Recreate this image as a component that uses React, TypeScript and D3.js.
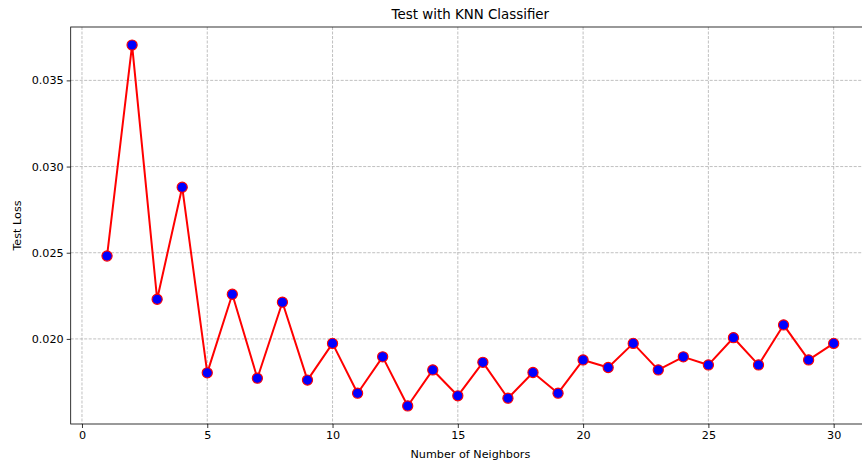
import React, { useEffect, useRef } from 'react';
import * as d3 from 'd3';

const neighbors = [1, 2, 3, 4, 5, 6, 7, 8, 9, 10, 11, 12, 13, 14, 15, 16, 17, 18, 19, 20, 21, 22, 23, 24, 25, 26, 27, 28, 29, 30];
const testLoss = [
  0.02481, 0.03705, 0.02230, 0.02880, 0.01803, 0.02259, 0.01772, 0.02213, 0.01761, 0.01974,
  0.01685, 0.01896, 0.01611, 0.01820, 0.01670, 0.01864, 0.01656, 0.01805, 0.01685, 0.01878,
  0.01834, 0.01974, 0.01820, 0.01896, 0.01849, 0.02007, 0.01849, 0.02081, 0.01878, 0.01974,
];
const xTicks = [0, 5, 10, 15, 20, 25, 30];
const yTicks = [0.020, 0.025, 0.030, 0.035];

const W = 862;
const H = 466;
const FONT = 'DejaVu Sans, sans-serif';

function Chart() {
  const node = useRef<SVGSVGElement | null>(null);

  useEffect(() => {
    const svg = d3.select(node.current);
    svg.selectAll('*').remove();

    const left = 70.7, right = 870, top = 27, bottom = 424;

    // matplotlib style 5% margins
    const xMin = d3.min(neighbors)!, xMax = d3.max(neighbors)!;
    const yMin = d3.min(testLoss)!, yMax = d3.max(testLoss)!;
    const xPad = (xMax - xMin) * 0.05, yPad = (yMax - yMin) * 0.05;

    const x = d3.scaleLinear().domain([xMin - xPad, xMax + xPad]).range([left, right]);
    const y = d3.scaleLinear().domain([yMin - yPad, yMax + yPad]).range([bottom, top]);

    // grid
    const grid = svg.append('g')
      .attr('stroke', '#b0b0b0')
      .attr('stroke-width', 0.8)
      .attr('stroke-dasharray', '3,1.5');
    grid.selectAll('line.gx').data(xTicks).enter().append('line')
      .attr('class', 'gx')
      .attr('x1', d => x(d)).attr('x2', d => x(d))
      .attr('y1', top).attr('y2', bottom);
    grid.selectAll('line.gy').data(yTicks).enter().append('line')
      .attr('class', 'gy')
      .attr('x1', left).attr('x2', right)
      .attr('y1', d => y(d)).attr('y2', d => y(d));

    // line + markers
    const line = d3.line<number>()
      .x((d, i) => x(neighbors[i]))
      .y(d => y(d));
    svg.append('path')
      .datum(testLoss)
      .attr('d', line)
      .attr('fill', 'none')
      .attr('stroke', '#ff0000')
      .attr('stroke-width', 2)
      .attr('stroke-linejoin', 'round');
    svg.selectAll('circle.pt').data(testLoss).enter().append('circle')
      .attr('class', 'pt')
      .attr('cx', (d, i) => x(neighbors[i]))
      .attr('cy', d => y(d))
      .attr('r', 5.1)
      .attr('fill', '#0000ff')
      .attr('stroke', '#ff0000')
      .attr('stroke-width', 1.1);

    // axes
    const xAxis = d3.axisBottom(x).tickValues(xTicks).tickFormat(d3.format('d')).tickSize(4).tickSizeOuter(0).tickPadding(3);
    const yAxis = d3.axisLeft(y).tickValues(yTicks).tickFormat(d3.format('.3f')).tickSize(4).tickSizeOuter(0).tickPadding(3);

    const gx = svg.append('g').attr('transform', `translate(0,${bottom})`).call(xAxis);
    const gy = svg.append('g').attr('transform', `translate(${left},0)`).call(yAxis);
    [gx, gy].forEach(g => {
      g.select('.domain').remove();
      g.selectAll('.tick line').attr('stroke', '#000').attr('stroke-width', 0.8);
      g.selectAll('.tick text').attr('fill', '#000').style('font-family', FONT).style('font-size', '11.2px');
    });

    // spines
    svg.append('rect')
      .attr('x', left).attr('y', top)
      .attr('width', right - left).attr('height', bottom - top)
      .attr('fill', 'none')
      .attr('stroke', '#000')
      .attr('stroke-width', 0.8);

    // labels
    svg.append('text')
      .attr('x', (left + right) / 2).attr('y', 19)
      .attr('text-anchor', 'middle')
      .style('font-family', FONT).style('font-size', '13.4px')
      .text('Test with KNN Classifier');
    svg.append('text')
      .attr('x', (left + right) / 2).attr('y', 458)
      .attr('text-anchor', 'middle')
      .style('font-family', FONT).style('font-size', '11.2px')
      .text('Number of Neighbors');
    svg.append('text')
      .attr('transform', `translate(21,${(top + bottom) / 2}) rotate(-90)`)
      .attr('text-anchor', 'middle')
      .style('font-family', FONT).style('font-size', '11.2px')
      .text('Test Loss');
  }, []);

  return <svg ref={node} width={W} height={H} style={{ display: 'block', background: '#fff' }} />;
}

export default function App() {
  return (
    <div>
      <style>{'body{margin:0}'}</style>
      <Chart />
    </div>
  );
}
